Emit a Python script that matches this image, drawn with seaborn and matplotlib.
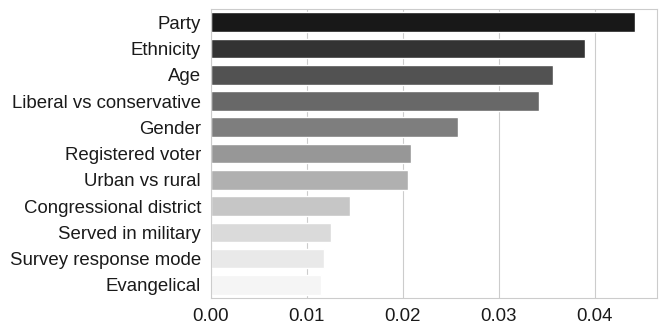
import matplotlib
matplotlib.use("Agg")
import matplotlib.pyplot as plt
import seaborn as sns
import pandas as pd

features = ["Party", "Ethnicity", "Age", "Liberal vs conservative", "Gender",
            "Registered voter", "Urban vs rural", "Congressional district",
            "Served in military", "Survey response mode", "Evangelical"]
importance = [0.0442, 0.0390, 0.0357, 0.0342, 0.0258, 0.0209, 0.0206,
              0.0145, 0.0125, 0.0118, 0.0115]

df = pd.DataFrame({"feature": features, "importance": importance})

sns.set_style("whitegrid")
plt.rcParams["font.family"] = ["Liberation Sans", "DejaVu Sans"]

fig, ax = plt.subplots(figsize=(6.67, 3.36), dpi=100)
sns.barplot(data=df, x="importance", y="feature", hue="feature",
            palette="Greys_r", legend=False, ax=ax, width=0.75)
ax.set_xlabel("")
ax.set_ylabel("")
ax.set_xlim(0, 0.0465)
ax.set_xticks([0.0, 0.01, 0.02, 0.03, 0.04])
ax.tick_params(labelsize=13.4, colors="#1a1a1a")
fig.subplots_adjust(left=0.316, right=0.985, top=0.973, bottom=0.113)
fig.savefig("out.png", dpi=100)
